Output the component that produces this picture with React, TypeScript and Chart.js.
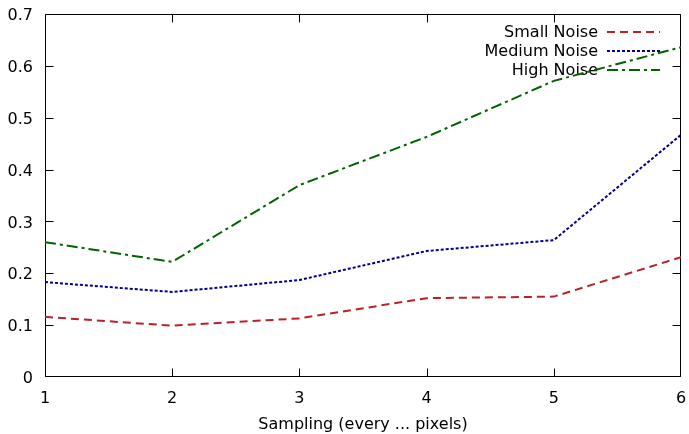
import { useEffect, useRef } from "react";
import { Chart, registerables } from "chart.js";

Chart.register(...registerables);

// Sampling step (every N pixels) and the error measured for each noise level
const samplingSteps = [1, 2, 3, 4, 5, 6];
const smallNoise = [0.116, 0.099, 0.113, 0.152, 0.155, 0.231];
const mediumNoise = [0.183, 0.164, 0.187, 0.243, 0.264, 0.467];
const highNoise = [0.26, 0.222, 0.37, 0.463, 0.571, 0.636];
const seriesNames = ["Small Noise", "Medium Noise", "High Noise"];
const xTitle = "Sampling (every ... pixels)";

const FONT = "'DejaVu Sans', sans-serif";
const colors = ["#b8232a", "#00008b", "#006400"];
const dashes = [
  [8, 5],
  [3, 2],
  [11, 4, 3, 4],
];

// Box around the plot with inward tick marks on every side
const framePlugin = {
  id: "frame",
  beforeDatasetsDraw(chart: any) {
    const { ctx, chartArea: a, scales } = chart;
    const L = Math.round(a.left) + 0.5;
    const R = Math.round(a.right) - 0.5;
    const T = Math.round(a.top) + 0.5;
    const B = Math.round(a.bottom) - 0.5;
    const len = 8;
    const clamp = (v: number, lo: number, hi: number) => Math.min(hi, Math.max(lo, v));
    ctx.save();
    ctx.strokeStyle = "#000";
    ctx.lineWidth = 1;
    ctx.beginPath();
    ctx.rect(L, T, R - L, B - T);
    for (const t of scales.x.ticks) {
      const px = clamp(Math.round(scales.x.getPixelForValue(t.value)) + 0.5, L, R);
      ctx.moveTo(px, B);
      ctx.lineTo(px, B - len);
      ctx.moveTo(px, T);
      ctx.lineTo(px, T + len);
    }
    for (const t of scales.y.ticks) {
      const py = clamp(Math.round(scales.y.getPixelForValue(t.value)) + 0.5, T, B);
      ctx.moveTo(L, py);
      ctx.lineTo(L + len, py);
      ctx.moveTo(R, py);
      ctx.lineTo(R - len, py);
    }
    ctx.stroke();
    ctx.restore();
  },
};

// Key in the upper right corner: right-aligned names followed by line samples
const keyPlugin = {
  id: "key",
  beforeDatasetsDraw(chart: any) {
    const { ctx, chartArea: a } = chart;
    const textRight = a.right - 83;
    const sampleStart = a.right - 74;
    const sampleEnd = a.right - 21;
    ctx.save();
    ctx.font = `16px ${FONT}`;
    ctx.textAlign = "right";
    ctx.textBaseline = "middle";
    seriesNames.forEach((name, i) => {
      const y = a.top + 18 + i * 19;
      ctx.fillStyle = "#000";
      ctx.fillText(name, textRight, y + 1);
      ctx.strokeStyle = colors[i];
      ctx.lineWidth = 2;
      ctx.setLineDash(dashes[i]);
      ctx.beginPath();
      ctx.moveTo(sampleStart, y);
      ctx.lineTo(sampleEnd, y);
      ctx.stroke();
    });
    ctx.restore();
  },
};

// Keep the plot box at a fixed place: no room reserved for label overhang
function clearOverhang(scale: any) {
  scale.paddingLeft = 0;
  scale.paddingRight = 0;
  scale.paddingTop = 0;
  scale.paddingBottom = 0;
}

export default function App() {
  const canvasRef = useRef<HTMLCanvasElement>(null);

  useEffect(() => {
    const canvas = canvasRef.current;
    if (!canvas) return;
    const series = [smallNoise, mediumNoise, highNoise];
    const chart = new Chart(canvas, {
      type: "line",
      data: {
        datasets: series.map((values, i) => ({
          label: seriesNames[i],
          data: values.map((v, j) => ({ x: samplingSteps[j], y: v })),
          borderColor: colors[i],
          borderWidth: 2,
          borderDash: dashes[i],
          pointRadius: 0,
          tension: 0,
          fill: false,
        })),
      },
      options: {
        responsive: false,
        animation: false,
        layout: { padding: { top: 14, right: 8, left: 0, bottom: 0 } },
        plugins: {
          legend: { display: false },
          tooltip: { enabled: false },
        },
        scales: {
          x: {
            type: "linear",
            min: 1,
            max: 6,
            border: { display: false },
            grid: { display: false, drawTicks: false },
            ticks: {
              stepSize: 1,
              padding: 12,
              color: "#000",
              font: { family: FONT, size: 16 },
              maxRotation: 0,
            },
            title: {
              display: true,
              text: xTitle,
              color: "#000",
              font: { family: FONT, size: 16 },
              padding: { top: 0, bottom: 0 },
            },
            afterFit(scale: any) {
              scale.height = 57;
              clearOverhang(scale);
            },
          },
          y: {
            min: 0,
            max: 0.7,
            border: { display: false },
            grid: { display: false, drawTicks: false },
            ticks: {
              stepSize: 0.1,
              padding: 12,
              labelOffset: 2,
              color: "#000",
              font: { family: FONT, size: 16 },
              callback: (v: any) => (Number(v) === 0 ? "0" : Number(v).toFixed(1)),
            },
            afterFit(scale: any) {
              scale.width = 45;
              clearOverhang(scale);
            },
          },
        },
      },
      plugins: [framePlugin, keyPlugin],
    });
    return () => chart.destroy();
  }, []);

  return (
    <div style={{ position: "fixed", left: 0, top: 0, width: 689, height: 434, background: "#fff" }}>
      <canvas ref={canvasRef} width={689} height={434} />
    </div>
  );
}
